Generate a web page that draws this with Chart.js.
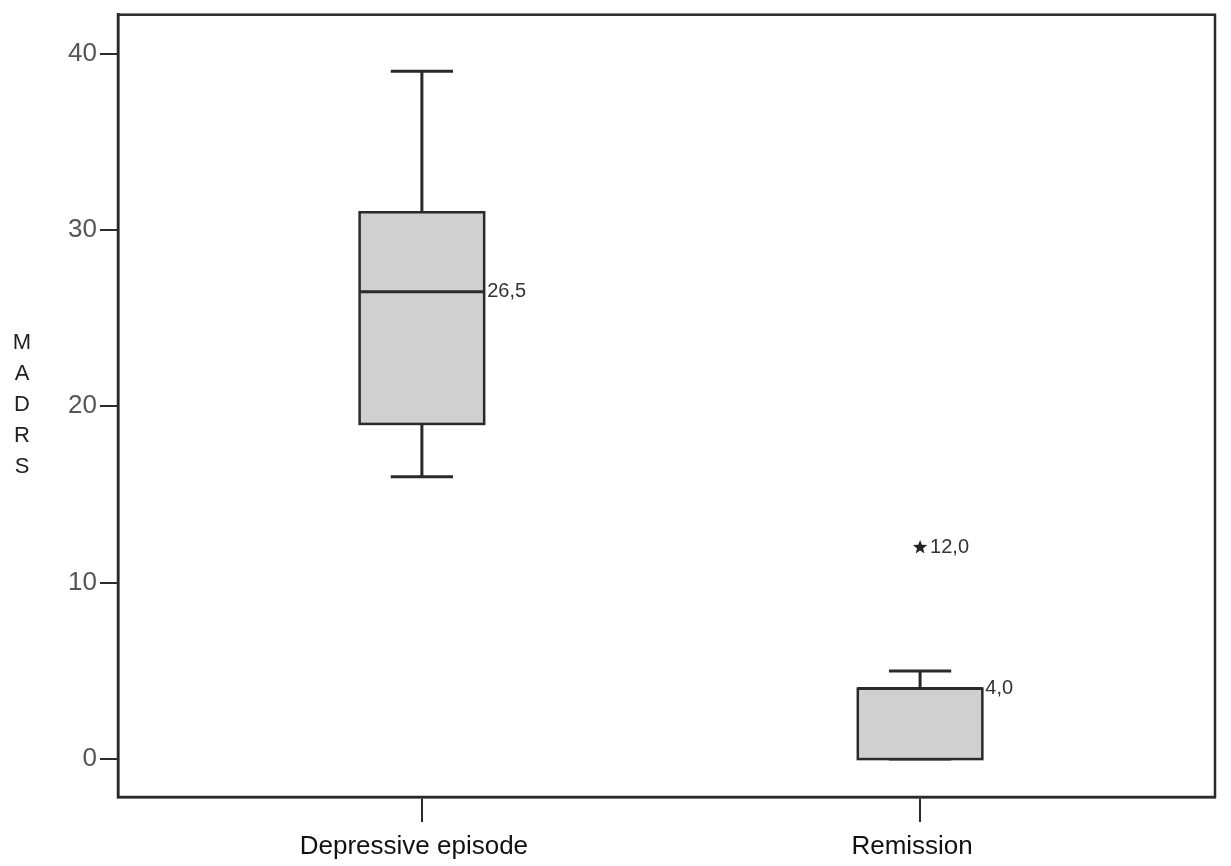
<!DOCTYPE html>
<html>
<head>
<meta charset="utf-8">
<script src="https://cdn.jsdelivr.net/npm/chart.js@4.4.0/dist/chart.umd.min.js"></script>
<style>
  html, body { margin: 0; padding: 0; background: #fff; }
</style>
</head>
<body>
<canvas id="myChart" width="1231" height="866"></canvas>
<script>
// datos del boxplot
const groups = ["Depressive episode", "Remission"];
const whiskerLow = [16, 0];
const q1 = [19, 0];
const median = [26.5, 4];
const q3 = [31, 4];
const whiskerHigh = [39, 5];
const outliers = [[], [12]];
const medianLabels = ["26,5", "4,0"];
const outlierLabels = [[], ["12,0"]];
const yTicks = [0, 10, 20, 30, 40];
const axisTitle = ["M", "A", "D", "R", "S"];

const lineColor = "#2a2a2a";
const boxFill = "#d0d0d0";
const fontFam = "'Liberation Sans', Arial, sans-serif";

function drawStar(c, x, y, r) {
    c.beginPath();
    for (let i = 0; i < 10; i++) {
        const rad = i % 2 === 0 ? r : r * 0.42;
        const a = -Math.PI / 2 + i * Math.PI / 5;
        const px = x + rad * Math.cos(a), py = y + rad * Math.sin(a);
        if (i === 0) c.moveTo(px, py); else c.lineTo(px, py);
    }
    c.closePath();
    c.fill();
}

const boxPlugin = {
    id: "boxes",
    afterDatasetsDraw(chart) {
        const c = chart.ctx, xs = chart.scales.x, ys = chart.scales.y;
        const a = chart.chartArea;
        c.save();
        // marco
        c.strokeStyle = lineColor;
        c.lineWidth = 2.5;
        c.strokeRect(a.left, a.top, a.right - a.left, a.bottom - a.top);

        groups.forEach((g, i) => {
            const cx = xs.getPixelForValue(i + 1);
            const half = xs.getPixelForValue(i + 1 + 0.125) - cx;
            const capHalf = half / 2;
            const yLo = ys.getPixelForValue(whiskerLow[i]);
            const yQ1 = ys.getPixelForValue(q1[i]);
            const yMed = ys.getPixelForValue(median[i]);
            const yQ3 = ys.getPixelForValue(q3[i]);
            const yHi = ys.getPixelForValue(whiskerHigh[i]);
            c.lineWidth = 3;
            c.strokeStyle = lineColor;
            // bigotes
            c.beginPath();
            c.moveTo(cx, yQ3); c.lineTo(cx, yHi);
            c.moveTo(cx - capHalf, yHi); c.lineTo(cx + capHalf, yHi);
            c.moveTo(cx, yQ1); c.lineTo(cx, yLo);
            c.moveTo(cx - capHalf, yLo); c.lineTo(cx + capHalf, yLo);
            c.stroke();
            // caja
            c.fillStyle = boxFill;
            c.fillRect(cx - half, yQ3, half * 2, yQ1 - yQ3);
            c.lineWidth = 2.5;
            c.strokeRect(cx - half, yQ3, half * 2, yQ1 - yQ3);
            // mediana
            c.lineWidth = 3;
            c.beginPath();
            c.moveTo(cx - half, yMed); c.lineTo(cx + half, yMed);
            c.stroke();
            c.fillStyle = "#333";
            c.font = "20px " + fontFam;
            c.textAlign = "left";
            c.textBaseline = "middle";
            c.fillText(medianLabels[i], cx + half + 3, yMed);
            // atipicos
            outliers[i].forEach((v, k) => {
                const oy = ys.getPixelForValue(v);
                c.fillStyle = "#222";
                drawStar(c, cx, oy, 7.5);
                c.fillStyle = "#333";
                c.fillText(outlierLabels[i][k], cx + 10, oy);
            });
        });

        // titulo del eje Y en letras apiladas
        c.fillStyle = "#222";
        c.font = "22px " + fontFam;
        c.textAlign = "center";
        c.textBaseline = "middle";
        axisTitle.forEach((ch, k) => {
            c.fillText(ch, 22, 343 + k * 31);
        });
        c.restore();
    }
};

const ctx = document.getElementById("myChart");
const chart = new Chart(ctx, {
    type: "scatter",
    data: { datasets: [{ data: [], showLine: false }] },
    options: {
        responsive: false,
        animation: false,
        layout: { padding: { left: 0, top: 13, right: 16, bottom: 0 } },
        plugins: { legend: { display: false }, tooltip: { enabled: false } },
        scales: {
            x: {
                type: "linear",
                min: 0.39,
                max: 2.592,
                afterBuildTicks: (s) => { s.ticks = groups.map((g, i) => ({ value: i + 1 })); },
                afterFit: (s) => { s.height = 69; },
                ticks: {
                    callback: (v) => groups[v - 1],
                    color: "#111",
                    font: { size: 26, family: fontFam, lineHeight: 1.0 },
                    padding: 12,
                    labelOffset: -8,
                    maxRotation: 0,
                    autoSkip: false
                },
                grid: { drawOnChartArea: false, tickLength: 25, color: lineColor, lineWidth: 2 },
                border: { display: true, color: lineColor, width: 2.5 }
            },
            y: {
                min: -2.15,
                max: 42.2,
                afterBuildTicks: (s) => { s.ticks = yTicks.map(v => ({ value: v })); },
                afterFit: (s) => { s.width = 118; },
                ticks: {
                    color: "#555",
                    font: { size: 26, family: fontFam, lineHeight: 0.9 },
                    padding: 3,
                    autoSkip: false
                },
                grid: { drawOnChartArea: false, tickLength: 18, color: lineColor, lineWidth: 2 },
                border: { display: true, color: lineColor, width: 2.5 }
            }
        }
    },
    plugins: [boxPlugin]
});
</script>
</body>
</html>
